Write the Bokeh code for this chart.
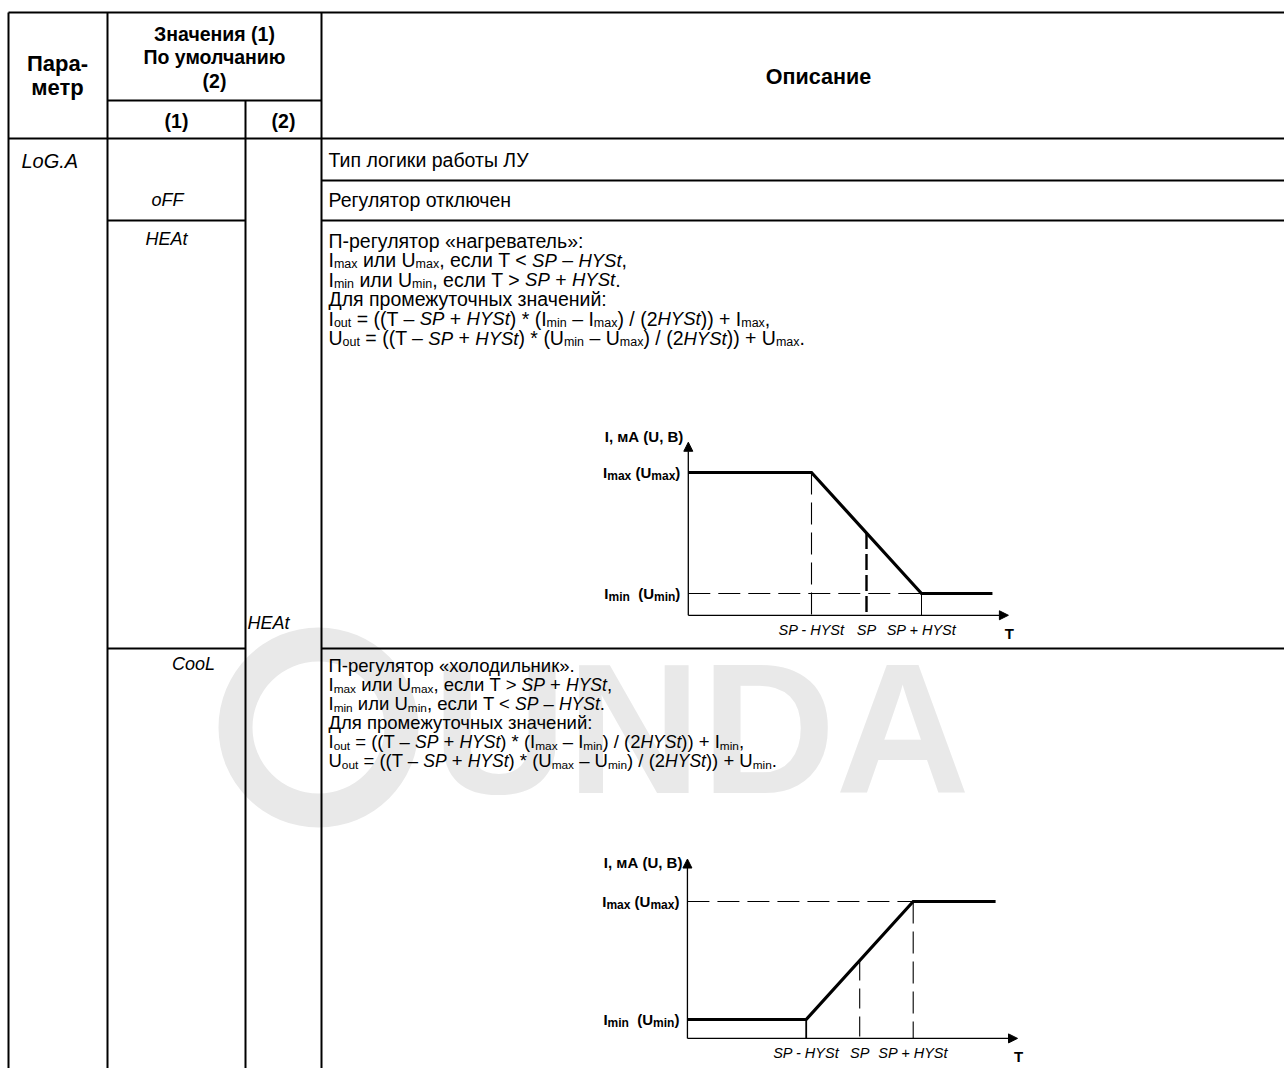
import glob, os
import numpy as np
from bokeh.plotting import figure
from bokeh.models import Range1d, Arrow, NormalHead, ColumnDataSource
from bokeh.core.properties import value
from bokeh.embed import file_html
from bokeh.resources import INLINE

# ---------------- content / data ----------------
header_param = ["Пара-", "метр"]
header_values = ["Значения (1)", "По умолчанию", "(2)"]
sub_headers = ["(1)", "(2)"]
header_desc = "Описание"
param_name = "LoG.A"
option_codes = ["oFF", "HEAt", "CooL"]
default_code = "HEAt"
desc_type = "Тип логики работы ЛУ"
desc_off = "Регулятор отключен"

heat_lines = [
    [("П-регулятор «нагреватель»:", "n")],
    [("I", "n"), ("max", "s"), (" или U", "n"), ("max", "s"), (", если T < ", "n"), ("SP", "g"), (" – ", "n"), ("HYSt", "g"), (",", "n")],
    [("I", "n"), ("min", "s"), (" или U", "n"), ("min", "s"), (", если T > ", "n"), ("SP", "g"), (" + ", "n"), ("HYSt", "g"), (".", "n")],
    [("Для промежуточных значений:", "n")],
    [("I", "n"), ("out", "s"), (" = ((T – ", "n"), ("SP", "g"), (" + ", "n"), ("HYSt", "g"), (") * (I", "n"), ("min", "s"), (" – I", "n"), ("max", "s"), (") / (2", "n"), ("HYSt", "g"), (")) + I", "n"), ("max", "s"), (",", "n")],
    [("U", "n"), ("out", "s"), (" = ((T – ", "n"), ("SP", "g"), (" + ", "n"), ("HYSt", "g"), (") * (U", "n"), ("min", "s"), (" – U", "n"), ("max", "s"), (") / (2", "n"), ("HYSt", "g"), (")) + U", "n"), ("max", "s"), (".", "n")],
]
cool_lines = [
    [("П-регулятор «холодильник».", "n")],
    [("I", "n"), ("max", "s"), (" или U", "n"), ("max", "s"), (", если T > ", "n"), ("SP", "g"), (" + ", "n"), ("HYSt", "g"), (",", "n")],
    [("I", "n"), ("min", "s"), (" или U", "n"), ("min", "s"), (", если T < ", "n"), ("SP", "g"), (" – ", "n"), ("HYSt", "g"), (".", "n")],
    [("Для промежуточных значений:", "n")],
    [("I", "n"), ("out", "s"), (" = ((T – ", "n"), ("SP", "g"), (" + ", "n"), ("HYSt", "g"), (") * (I", "n"), ("max", "s"), (" – I", "n"), ("min", "s"), (") / (2", "n"), ("HYSt", "g"), (")) + I", "n"), ("min", "s"), (",", "n")],
    [("U", "n"), ("out", "s"), (" = ((T – ", "n"), ("SP", "g"), (" + ", "n"), ("HYSt", "g"), (") * (U", "n"), ("max", "s"), (" – U", "n"), ("min", "s"), (") / (2", "n"), ("HYSt", "g"), (")) + U", "n"), ("min", "s"), (".", "n")],
]

# chart data (T in units of HYSt relative to SP; output 0 = min, 1 = max)
tick_T = [-1, 0, 1]
tick_labels = ["SP - HYSt", "SP", "SP + HYSt"]
axis_title = "I, мА (U, B)"
label_max = [("I", "n"), ("max", "s"), (" (U", "n"), ("max", "s"), (")", "n")]
label_min = [("I", "n"), ("min", "s"), ("  (U", "n"), ("min", "s"), (")", "n")]

heat_T = [-3.24, -1, 1, 2.29]
heat_out = [1, 1, 0, 0]
heat_axis_T = [-3.24, 2.58]      # x-axis start / arrow end
heat_axis_out = [-0.18, 1.25]    # y-axis start / arrow end

cool_T = [-3.22, -1, 1, 2.54]
cool_out = [0, 0, 1, 1]
cool_axis_T = [-3.22, 2.95]
cool_axis_out = [-0.16, 1.36]

# ---------------- fonts & measuring ----------------
FILES = {}
for pat in ["/usr/share/fonts/**/*.ttf", "/usr/share/fonts/**/*.otf",
            "/usr/local/share/fonts/**/*.ttf", os.path.expanduser("~/.fonts/**/*.ttf")]:
    for f in glob.glob(pat, recursive=True):
        FILES[os.path.basename(f)] = f

FONT_FILE = {
    ("Liberation Sans", "normal"): "LiberationSans-Regular.ttf",
    ("Liberation Sans", "bold"): "LiberationSans-Bold.ttf",
    ("Liberation Sans", "italic"): "LiberationSans-Italic.ttf",
}

try:
    from PIL import ImageFont
except Exception:
    ImageFont = None
_fc = {}


def tw(s, fam, style, size):
    fn = FONT_FILE.get((fam, style))
    path = FILES.get(fn) if fn else None
    if ImageFont is not None and path:
        if path not in _fc:
            _fc[path] = ImageFont.truetype(path, 100)
        return _fc[path].getlength(s) * size / 100.0
    return len(s) * size * 0.56


MAIN = "Liberation Sans"
SEG_FAM, SEG_STYLE = MAIN, "italic"

# ---------------- figure ----------------
W, H = 1284, 1068
p = figure(width=W, height=H, x_range=Range1d(0, W), y_range=Range1d(H, 0),
           output_backend="svg", toolbar_location=None, min_border=0,
           x_axis_location=None, y_axis_location=None)
p.grid.visible = False
p.outline_line_color = None
p.background_fill_color = "white"
p.border_fill_color = "white"

recs = []


def put(x, yc, text, fam, style, size, align="left", color="black"):
    # yc is the visual centre of the text line
    recs.append((x, yc, text, fam, style, round(size, 2), align, color))


def runs(x0, yc, items, size, fam=MAIN, bold=False, align="left", seg_size=None, sub_k=0.64):
    st_n = "bold" if bold else "normal"
    seg_size = seg_size or size
    pieces = []
    for txt, kind in items:
        if kind == "n":
            f, st, sz, dy = fam, st_n, size, 0.0
        elif kind == "s":
            f, st, sz, dy = fam, st_n, size * sub_k, size * 0.22
        else:
            f, st, sz, dy = SEG_FAM, SEG_STYLE, seg_size, 0.0
        pieces.append((txt, f, st, sz, dy, tw(txt, f, st, sz)))
    total = sum(pc[5] for pc in pieces)
    x = x0
    if align == "right":
        x = x0 - total
    elif align == "center":
        x = x0 - total / 2
    for txt, f, st, sz, dy, w in pieces:
        s = txt.strip()
        if s:
            lead = txt[: len(txt) - len(txt.lstrip())]
            put(x + tw(lead, f, st, sz), yc + dy, s, f, st, sz)
        x += w


# ---------------- watermark ----------------
WM = "#e9e9e9"
p.annulus(x=[318], y=[727], inner_radius=66, outer_radius=100,
          inner_radius_units="screen", outer_radius_units="screen",
          fill_color=WM, line_color=None)
put(432, 728, "UNDA", MAIN, "bold", 186, color=WM)

# ---------------- table grid ----------------
RIGHT = 1300
BOTTOM = 1080
segs = [
    (8, 12, RIGHT, 12), (8, 12, 8, BOTTOM), (107, 12, 107, BOTTOM), (321, 12, 321, BOTTOM),
    (245, 100, 245, BOTTOM), (107, 100, 321, 100), (8, 138, RIGHT, 138),
    (321, 180, RIGHT, 180), (107, 220, 245, 220), (321, 220, RIGHT, 220),
    (107, 648, 245, 648), (321, 648, RIGHT, 648),
]
p.segment(x0=[s[0] for s in segs], y0=[s[1] for s in segs],
          x1=[s[2] for s in segs], y1=[s[3] for s in segs],
          line_color="black", line_width=2)

# ---------------- header texts ----------------
put(57, 63, header_param[0], MAIN, "bold", 22, align="center")
put(57, 87, header_param[1], MAIN, "bold", 22, align="center")
for t, yc in zip(header_values, [33, 56, 80]):
    put(214, yc, t, MAIN, "bold", 19.5, align="center")
put(176, 120, sub_headers[0], MAIN, "bold", 19.5, align="center")
put(283, 120, sub_headers[1], MAIN, "bold", 19.5, align="center")
put(818, 76, header_desc, MAIN, "bold", 21.5, align="center")

# parameter / option codes
SG = 18
put(21, 160, param_name, SEG_FAM, SEG_STYLE, 20)
put(167, 199, option_codes[0], SEG_FAM, SEG_STYLE, SG, align="center")
put(166, 238, option_codes[1], SEG_FAM, SEG_STYLE, SG, align="center")
put(193, 663, option_codes[2], SEG_FAM, SEG_STYLE, SG, align="center")
put(268, 622, default_code, SEG_FAM, SEG_STYLE, SG, align="center")

# descriptions
DS = 19.5
runs(328, 159, [(desc_type, "n")], DS)
runs(328, 199, [(desc_off, "n")], DS)
for items, yc in zip(heat_lines, [240, 259.5, 279, 298.5, 318, 337.5]):
    runs(328, yc, items, DS, seg_size=18.5)
for items, yc in zip(cool_lines, [665, 684, 703, 722, 741, 760]):
    runs(328, yc, items, 18.5, seg_size=17.5)


# ---------------- the two charts ----------------
def setup_chart(T_pair, x_pair, v_pair, y_pair):
    (T1, T2), (x1, x2) = T_pair, x_pair
    bx = (x2 - x1) / (T2 - T1)
    (v1, v2), (y1, y2) = v_pair, y_pair
    by = (y2 - y1) / (v2 - v1)
    T_at = lambda px: T1 + (px - x1) / bx
    v_at = lambda py: v1 + (py - y1) / by
    xr = Range1d(T_at(0), T_at(W))
    yr = Range1d(v_at(H), v_at(0))
    xref = lambda T: x1 + (T - T1) * bx
    yref = lambda v: y1 + (v - v1) * by
    return xr, yr, xref, yref


hx, hy, h_xref, h_yref = setup_chart((-1, 1), (811, 921), (0, 1), (593, 472))
cx, cy, c_xref, c_yref = setup_chart((-1, 1), (805.7, 912.7), (0, 1), (1019, 901))
p.extra_x_ranges = {"hT": hx, "cT": cx}
p.extra_y_ranges = {"hV": hy, "cV": cy}


def draw_chart(rx, ry, T, out, axT, axV, kind, xref, yref, title_y):
    kw = dict(x_range_name=rx, y_range_name=ry)
    T0, V0 = axT[0], axV[0]
    sp_val = float(np.interp(0, T, out))
    dash = "22 8"
    if kind == "heat":
        p.segment(x0=[tick_T[0]], y0=[out[1]], x1=[tick_T[0]], y1=[V0], line_color="black",
                  line_width=1.1, line_dash=dash, **kw)
        p.segment(x0=[tick_T[1]], y0=[sp_val], x1=[tick_T[1]], y1=[V0], line_color="black",
                  line_width=2.4, line_dash="16 5", **kw)
        p.segment(x0=[tick_T[2]], y0=[out[2]], x1=[tick_T[2]], y1=[V0], line_color="black",
                  line_width=1.0, **kw)
        p.segment(x0=[T0], y0=[out[2]], x1=[tick_T[2]], y1=[out[2]], line_color="black",
                  line_width=1.1, line_dash=dash, **kw)
    else:
        p.segment(x0=[tick_T[0]], y0=[out[1]], x1=[tick_T[0]], y1=[V0], line_color="black",
                  line_width=1.8, **kw)
        p.segment(x0=[tick_T[1]], y0=[sp_val], x1=[tick_T[1]], y1=[V0], line_color="black",
                  line_width=1.1, line_dash="20 8", **kw)
        p.segment(x0=[tick_T[2]], y0=[out[2]], x1=[tick_T[2]], y1=[V0], line_color="black",
                  line_width=1.1, line_dash=dash, **kw)
        p.segment(x0=[T0], y0=[out[2]], x1=[tick_T[2]], y1=[out[2]], line_color="black",
                  line_width=1.1, line_dash=dash, **kw)
    # axes with arrows
    for xe, ye in [(axT[1], V0), (T0, axV[1])]:
        p.add_layout(Arrow(end=NormalHead(size=9, fill_color="black", line_color="black", line_width=1),
                           x_start=T0, y_start=V0, x_end=xe, y_end=ye, line_width=1.3, **kw))
    # characteristic
    p.line(x=T, y=out, line_color="black", line_width=3.2, line_join="miter", **kw)
    # labels
    axis_x = xref(T0)
    for t, lab in zip(tick_T, tick_labels):
        put(xref(t), yref(V0) + 15, lab, SEG_FAM, SEG_STYLE, 14.5, align="center")
    put(xref(axT[1]) + 1, yref(V0) + 18, "T", MAIN, "bold", 15, align="center")
    put(axis_x - 5, title_y, axis_title, MAIN, "bold", 15, align="right")
    runs(axis_x - 8, yref(1), label_max, 15, bold=True, align="right", sub_k=0.8)
    runs(axis_x - 8, yref(0), label_min, 15, bold=True, align="right", sub_k=0.8)


draw_chart("hT", "hV", heat_T, heat_out, heat_axis_T, heat_axis_out, "heat", h_xref, h_yref, 436)
draw_chart("cT", "cV", cool_T, cool_out, cool_axis_T, cool_axis_out, "cool", c_xref, c_yref, 862)

# ---------------- emit texts ----------------
groups = {}
for x, y, t, fam, st, sz, al, col in recs:
    groups.setdefault((fam, st, sz, al, col), []).append((x, y, t))
for (fam, st, sz, al, col), items in groups.items():
    src = ColumnDataSource(dict(x=[i[0] for i in items], y=[i[1] for i in items],
                                text=[i[2] for i in items]))
    p.text(x="x", y="y", text="text", source=src, text_font=value(fam), text_font_style=st,
           text_font_size=value(f"{sz}px"), text_align=al, text_baseline="alphabetic",
           text_color=col)

open("out.html", "w").write(file_html(p, INLINE))
